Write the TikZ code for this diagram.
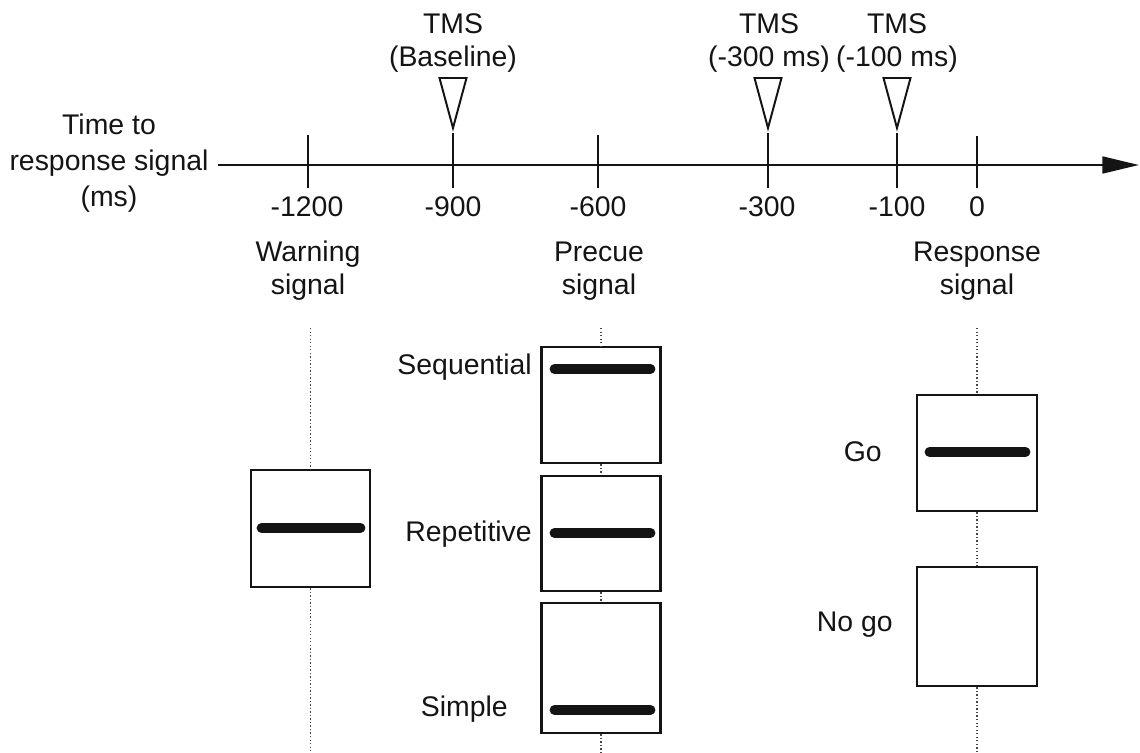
\documentclass[tikz,border=0pt]{standalone}
\usepackage{fontspec}
\setmainfont{Liberation Sans}
\usetikzlibrary{arrows.meta,calc}
\definecolor{InkClr}{RGB}{20,20,20}
\definecolor{DotClr}{RGB}{70,70,70}

\begin{document}
\begin{tikzpicture}[x=0.025cm,y=-0.025cm,
  lbl/.style={font=\fontsize{20.2}{23.5}\selectfont,inner sep=0pt,align=center,text=InkClr},
  tickln/.style={line width=0.8pt,color=InkClr},
  tmsmark/.style={line width=1.4pt,color=InkClr,fill=white,line join=miter},
  cuebox/.style={draw=InkClr,line width=1.9pt,fill=white,inner sep=0pt},
  cuebar/.style={line width=7pt,line cap=round,color=InkClr},
  dotln/.style={line width=1pt,color=DotClr,dash pattern=on 1pt off 1.5pt}]
\useasboundingbox (0,0) rectangle (1140,753);

% time axis
\coordinate (AxS) at (218,165);
\coordinate (AxE) at (1139,165);
\draw[line width=1.5pt,color=InkClr,-{Triangle[length=26pt,width=12pt]}] (AxS) -- (AxE);
\node[lbl,font=\fontsize{20.2}{25.6}\selectfont,anchor=base] (AxName) at (109,207) {Time to\\response signal\\(ms)};

\coordinate (T1200) at (308,165);
\coordinate (T900) at (453,165);
\coordinate (T600) at (598,165);
\coordinate (T300) at (768,165);
\coordinate (T100) at (897,165);
\coordinate (T0) at (977,165);

\draw[tickln] ($(T1200)+(0,-30)$) -- ($(T1200)+(0,23)$);
\draw[tickln] ($(T900)+(0,-32)$) -- ($(T900)+(0,23)$);
\draw[tickln] ($(T600)+(0,-30)$) -- ($(T600)+(0,23)$);
\draw[tickln] ($(T300)+(0,-32)$) -- ($(T300)+(0,23)$);
\draw[tickln] ($(T100)+(0,-32)$) -- ($(T100)+(0,23)$);
\draw[tickln] ($(T0)+(0,-29)$) -- ($(T0)+(0,23)$);

\node[lbl,anchor=base] (L1200) at (307,217) {-1200};
\node[lbl,anchor=base] (L900) at (453,217) {-900};
\node[lbl,anchor=base] (L600) at (598,217) {-600};
\node[lbl,anchor=base] (L300) at (767,217) {-300};
\node[lbl,anchor=base] (L100) at (897,217) {-100};
\node[lbl,anchor=base] (L0) at (977,217) {0};

% TMS pulses
\draw[tmsmark] ($(T900)+(-13.5,-87)$) -- ($(T900)+(13.5,-87)$) -- ($(T900)+(0,-37)$) -- cycle;
\draw[tmsmark] ($(T300)+(-13.5,-87)$) -- ($(T300)+(13.5,-87)$) -- ($(T300)+(0,-37)$) -- cycle;
\draw[tmsmark] ($(T100)+(-13.5,-87)$) -- ($(T100)+(13.5,-87)$) -- ($(T100)+(0,-37)$) -- cycle;

\node[lbl,anchor=base] (TmsBase) at (453,67) {TMS\\(Baseline)};
\node[lbl,anchor=base] (TmsA) at (769,67) {TMS\\(-300 ms)};
\node[lbl,anchor=base] (TmsB) at (897,67) {TMS\\(-100 ms)};

% signals
\node[lbl,anchor=base] (WarnName) at (308,295) {Warning\\signal};
\node[lbl,anchor=base] (CueName) at (599,295) {Precue\\signal};
\node[lbl,anchor=base] (RespName) at (977,295) {Response\\signal};

\coordinate (WarnTop) at (310.5,328);
\coordinate (WarnEnd) at (310.5,753);
\coordinate (CueTop) at (601,328);
\coordinate (CueEnd) at (601,753);
\coordinate (RespTop) at (977,328);
\coordinate (RespEnd) at (977,753);

\node[cuebox,minimum width=2.975cm,minimum height=2.925cm] (WarnBox) at (310.5,528.5) {};
\node[cuebox,minimum width=2.975cm,minimum height=2.9cm] (SeqBox) at (601,405) {};
\node[cuebox,minimum width=2.975cm,minimum height=2.875cm] (RepBox) at (601,533.5) {};
\node[cuebox,minimum width=2.975cm,minimum height=3.25cm] (SimBox) at (601,668) {};
\node[cuebox,minimum width=3cm,minimum height=2.9cm] (GoBox) at (977,453) {};
\node[cuebox,minimum width=3cm,minimum height=2.975cm] (NoGoBox) at (977,626.5) {};

\draw[dotln] (WarnTop) -- (WarnBox.north);
\draw[dotln] (WarnBox.south) -- (WarnEnd);
\draw[dotln] (CueTop) -- (SeqBox.north);
\draw[dotln] (SeqBox.south) -- (RepBox.north);
\draw[dotln] (RepBox.south) -- (SimBox.north);
\draw[dotln] (SimBox.south) -- (CueEnd);
\draw[dotln] (RespTop) -- (GoBox.north);
\draw[dotln] (GoBox.south) -- (NoGoBox.north);
\draw[dotln] (NoGoBox.south) -- (RespEnd);

\draw[cuebar] (261.5,528) -- (360.5,528);
\draw[cuebar] (554.5,369) -- (650.5,369);
\draw[cuebar] (554.5,533) -- (650.5,533);
\draw[cuebar] (554.5,710) -- (650.5,710);
\draw[cuebar] (929.5,452) -- (1025.5,452);

\node[lbl,anchor=base east] (SeqName) at (532,375) {Sequential};
\node[lbl,anchor=base east] (RepName) at (532,542) {Repetitive};
\node[lbl,anchor=base east] (SimName) at (508,717) {Simple};
\node[lbl,anchor=base east] (GoName) at (882,462) {Go};
\node[lbl,anchor=base east] (NoGoName) at (893,632) {No go};

\end{tikzpicture}
\end{document}
